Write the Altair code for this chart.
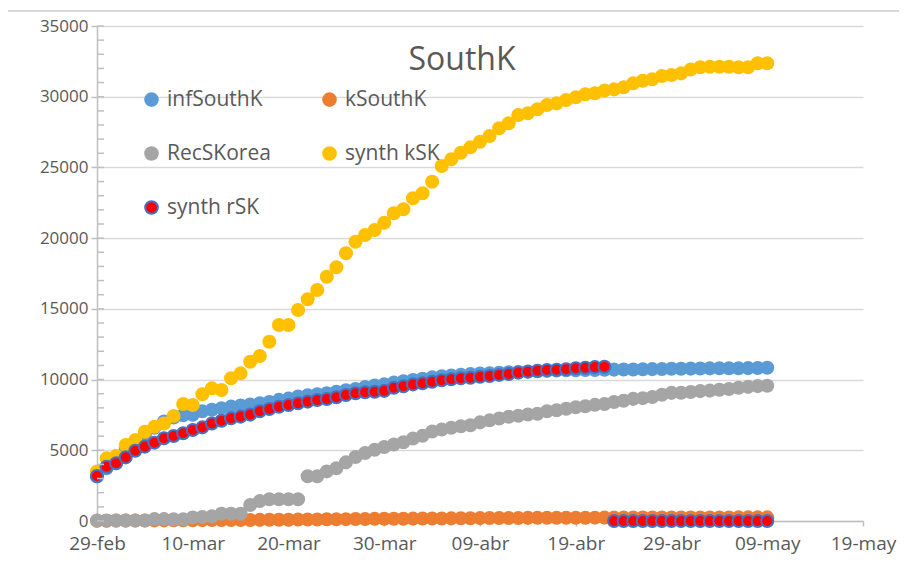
import altair as alt
import pandas as pd

# Day 0 = 29-feb; 71 daily points up to 09-may
series_names = ["infSouthK", "kSouthK", "RecSKorea", "synth kSK", "synth rSK"]
chart_title = ["SouthK"]

inf_south_k = [3150, 3736, 4335, 5186, 5621, 6088, 6593, 7041, 7314, 7478,
               7513, 7755, 7869, 7979, 8086, 8162, 8236, 8320, 8413, 8565,
               8652, 8799, 8897, 8961, 9037, 9137, 9241, 9332, 9478, 9583,
               9661, 9786, 9887, 9976, 10062, 10156, 10237, 10284, 10331, 10384,
               10423, 10450, 10480, 10512, 10537, 10564, 10591, 10613, 10635, 10653,
               10661, 10674, 10683, 10694, 10702, 10708, 10718, 10728, 10738, 10752,
               10761, 10765, 10774, 10780, 10793, 10801, 10804, 10806, 10810, 10822,
               10840]

k_south_k = [17, 17, 28, 28, 35, 35, 42, 44, 50, 53,
             54, 60, 66, 66, 72, 75, 75, 81, 84, 91,
             94, 102, 104, 111, 120, 126, 131, 139, 144, 152,
             158, 162, 165, 169, 174, 177, 183, 186, 192, 200,
             204, 208, 211, 214, 217, 222, 225, 229, 230, 232,
             234, 236, 237, 238, 240, 240, 240, 242, 243, 244,
             246, 247, 248, 250, 250, 252, 254, 255, 256, 256,
             256]

rec_s_korea = [27, 30, 30, 30, 41, 41, 135, 135, 118, 118,
               247, 288, 333, 510, 510, 510, 1137, 1407, 1540, 1540,
               1540, 1540, 3166, 3166, 3507, 3730, 4144, 4528, 4811, 5033,
               5228, 5408, 5567, 5828, 6021, 6325, 6463, 6598, 6694, 6776,
               6973, 7117, 7243, 7368, 7447, 7534, 7589, 7757, 7829, 7937,
               8042, 8114, 8213, 8277, 8411, 8501, 8635, 8686, 8764, 8922,
               9059, 9072, 9123, 9183, 9217, 9283, 9333, 9419, 9484, 9538,
               9568]

synth_k_sk = [3500, 4430, 4600, 5370, 5730, 6310, 6670, 6900, 7420, 8270,
              8200, 8960, 9380, 9260, 10090, 10440, 11260, 11670, 12680, 13860,
              13860, 14920, 15680, 16330, 17270, 17940, 18930, 19750, 20220, 20580,
              21090, 21760, 22040, 22820, 23170, 23990, 25100, 25570, 26040, 26420,
              26820, 27220, 27770, 28120, 28710, 28830, 29110, 29410, 29530, 29770,
              29960, 30170, 30240, 30430, 30520, 30670, 30950, 31130, 31230, 31460,
              31530, 31650, 31930, 32080, 32120, 32120, 32120, 32080, 32080, 32360,
              32360]

synth_r_sk = [3180, 3840, 4080, 4500, 4970, 5260, 5540, 5850, 6010, 6200,
              6430, 6620, 6900, 7090, 7260, 7380, 7520, 7760, 7920, 8080,
              8200, 8320, 8440, 8560, 8630, 8750, 8910, 9030, 9100, 9140,
              9200, 9420, 9530, 9660, 9740, 9850, 9950, 10020, 10090, 10130,
              10200, 10250, 10330, 10400, 10490, 10560, 10630, 10680, 10690, 10730,
              10800, 10840, 10880, 10910, 0, 0, 0, 0, 0, 0,
              0, 0, 0, 0, 0, 0, 0, 0, 0, 0,
              0]

tick_days = [0, 10, 20, 30, 40, 50, 60, 70, 80]
tick_labels = ["29-feb", "10-mar", "20-mar", "30-mar", "09-abr", "19-abr",
               "29-abr", "09-may", "19-may"]
y_ticks = [0, 5000, 10000, 15000, 20000, 25000, 30000, 35000]
minor_ticks = list(range(0, 35001, 1000))

fills = ["#5B9BD5", "#ED7D31", "#A5A5A5", "#FFC000", "#FF0000"]
strokes = ["#5B9BD5", "#ED7D31", "#A5A5A5", "#FFC000", "#4472C4"]

all_series = [inf_south_k, k_south_k, rec_s_korea, synth_k_sk, synth_r_sk]
rows = []
for z, (name, vals) in enumerate(zip(series_names, all_series)):
    for d, v in enumerate(vals):
        rows.append({"series": name, "day": d, "value": v, "z": z * 100 + d})
df = pd.DataFrame(rows)

FONT = "Open Sans"
TXT = "#595959"
GRID = "#d9d9d9"
AX = "#bfbfbf"

label_array = "[" + ",".join("'%s'" % t for t in tick_labels) + "]"

legend = alt.Legend(
    title=None, orient="none", legendX=44, legendY=63, columns=2,
    direction="horizontal",
    symbolType="circle", symbolSize=160, symbolStrokeWidth=2,
    labelFont=FONT, labelFontSize=21, labelColor=TXT, labelOffset=5,
    rowPadding=32, columnPadding=48,
)

yscale = alt.Scale(domain=[0, 35000], nice=False, zero=True)
yaxis = alt.Axis(values=y_ticks, title=None, format="d", gridColor=GRID, gridWidth=1.5,
                 domainColor=AX, domainWidth=1.5, tickColor=AX, tickWidth=1.5,
                 tickSize=6, labelPadding=3, labelFont=FONT, labelFontSize=17,
                 labelColor=TXT)

points = alt.Chart(df).mark_circle(size=145, strokeWidth=2, opacity=1).encode(
    x=alt.X("day:Q", scale=alt.Scale(domain=[0, 80], nice=False),
            axis=alt.Axis(values=tick_days, labelExpr=label_array + "[round(datum.value/10)]",
                          title=None, grid=False, domainColor=AX, domainWidth=1.5,
                          tickColor=AX, tickWidth=1.5, tickSize=5, labelPadding=8,
                          labelFont=FONT, labelFontSize=19, labelColor=TXT,
                          labelOverlap=False, labelFlush=False)),
    y=alt.Y("value:Q", scale=yscale, axis=yaxis),
    fill=alt.Fill("series:N", scale=alt.Scale(domain=series_names, range=fills), legend=legend),
    stroke=alt.Stroke("series:N", scale=alt.Scale(domain=series_names, range=strokes), legend=legend),
    order=alt.Order("z:Q"),
)

minor = alt.Chart(pd.DataFrame({"value": minor_ticks})).mark_rule(color=AX, strokeWidth=1.5).encode(
    y=alt.Y("value:Q", scale=yscale, axis=yaxis),
    x=alt.value(0), x2=alt.value(7),
)

border = alt.Chart(pd.DataFrame({"b": [0]})).mark_rule(color=GRID, strokeWidth=2).encode(
    y=alt.value(-15), x=alt.value(-89), x2=alt.value(802),
)

title = alt.Chart(pd.DataFrame({"t": chart_title})).mark_text(
    font=FONT, fontSize=32, color=TXT, align="center", baseline="alphabetic"
).encode(text="t:N", x=alt.value(365), y=alt.value(44))

chart = alt.layer(points, minor, border, title).properties(
    width=766, height=495,
    background="white",
    autosize=alt.AutoSizeParams(type="none"),
    padding={"left": 89, "top": 18, "right": 36, "bottom": 33},
).configure_view(stroke=None)

chart.save("out.html", embed_options={"renderer": "svg", "actions": False})
